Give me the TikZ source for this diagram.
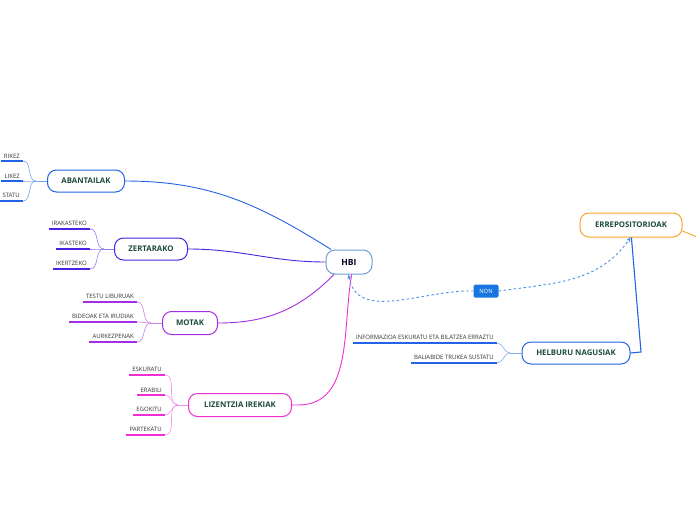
\documentclass[tikz,border=0pt]{standalone}
\usepackage{fontspec}
\setmainfont{Open Sans}
\usetikzlibrary{positioning,arrows.meta}
\definecolor{abcol}{HTML}{2463E6}
\definecolor{zecol}{HTML}{4B22E0}
\definecolor{mocol}{HTML}{A52DE3}
\definecolor{licol}{HTML}{EE2FD6}
\definecolor{hbcol}{HTML}{6A9FD8}
\definecolor{recol}{HTML}{F5A52A}
\definecolor{dacol}{HTML}{4A90E2}
\definecolor{noncol}{HTML}{1976E0}
\definecolor{txtcol}{HTML}{1E4A3C}
\definecolor{leaftxt}{HTML}{333333}

\begin{document}
\begin{tikzpicture}[x=1pt,y=-1pt,
  topic/.style={draw,line width=1pt,rounded corners=9pt,fill=white,inner sep=0pt,
    minimum height=22pt,text=txtcol,font=\fontsize{7.8}{9}\selectfont\bfseries},
  leaf/.style={anchor=south east,inner xsep=3pt,inner ysep=2.8pt,text=leaftxt,
    font=\fontsize{6}{7}\selectfont},
  under/.style={line width=1.2pt},
  twig/.style={line width=0.6pt},
  main/.style={line width=0.9pt},
  dashlink/.style={dacol,line width=0.9pt,dash pattern=on 2.5pt off 2.5pt,
    -{Stealth[length=4.5pt,width=4pt]}}]
\useasboundingbox (0,0) rectangle (696,520);
\clip (0,0) rectangle (696,520);

% main topics
\node[topic,draw=hbcol,text=black!85!blue,minimum width=46pt,minimum height=24pt,
  font=\fontsize{8.5}{9}\selectfont\bfseries] (hbi) at (349,262) {HBI};
\node[topic,draw=abcol,minimum width=77pt] (aban) at (86,181) {ABANTAILAK};
\node[topic,draw=zecol,minimum width=73pt] (zert) at (151,249) {ZERTARAKO};
\node[topic,draw=mocol,minimum width=55pt,minimum height=23pt] (mota) at (190,323) {MOTAK};
\node[topic,draw=licol,minimum width=103pt,minimum height=23pt] (liz) at (240,405) {LIZENTZIA IREKIAK};
\node[topic,draw=recol,minimum width=102pt,minimum height=24pt] (repo) at (631,225) {ERREPOSITORIOAK};
\node[topic,draw=abcol,minimum width=108pt] (helb) at (576,353) {HELBURU NAGUSIAK};
\node[fill=noncol,text=white,rounded corners=1.5pt,minimum width=25pt,minimum height=13pt,
  inner sep=0pt,font=\fontsize{5.8}{6}\selectfont] (non) at (486,291) {NON};

% junctions
\coordinate (abj) at (36,181);
\coordinate (zej) at (104,249);
\coordinate (moj) at (151,323);
\coordinate (lij) at (178,405);
\coordinate (hej) at (510,353);
\coordinate (hbk) at (641,352);
\coordinate (reout) at (697,237);

% leaves
\foreach \n/\t/\y in {a1/RIKEZ/161, a2/LIKEZ/181, a3/STATU/201}{
  \node[leaf] (\n) at (23,\y) {\t};
  \draw[abcol,under] (\n.south west) -- (\n.south east);
  \draw[abcol!60,twig] (\n.south east) to[out=0,in=180] (abj);
}
\draw[abcol!60,twig] (abj) -- (aban.west);

\foreach \n/\t/\y in {z1/IRAKASTEKO/229, z2/IKASTEKO/249, z3/IKERTZEKO/269}{
  \node[leaf] (\n) at (90,\y) {\t};
  \draw[zecol,under] (\n.south west) -- (\n.south east);
  \draw[zecol!60,twig] (\n.south east) to[out=0,in=180] (zej);
}
\draw[zecol!60,twig] (zej) -- (zert.west);

\foreach \n/\t/\y in {m1/TESTU LIBURUAK/302, m2/BIDEOAK ETA IRUDIAK/322, m3/AURKEZPENAK/342}{
  \node[leaf] (\n) at (137,\y) {\t};
  \draw[mocol,under] (\n.south west) -- (\n.south east);
  \draw[mocol!60,twig] (\n.south east) to[out=0,in=180] (moj);
}
\draw[mocol!60,twig] (moj) -- (mota.west);

\foreach \n/\t/\y in {l1/ESKURATU/375, l2/ERABILI/395, l3/EGOKITU/415, l4/PARTEKATU/435}{
  \node[leaf] (\n) at (165,\y) {\t};
  \draw[licol,under] (\n.south west) -- (\n.south east);
  \draw[licol!55,twig] (\n.south east) to[out=0,in=180] (lij);
}
\draw[licol!55,twig] (lij) -- (liz.west);

\foreach \n/\t/\y in {h1/INFORMAZIOA ESKURATU ETA BILATZEA ERRAZTU/343, h2/BALIABIDE TRUKEA SUSTATU/363}{
  \node[leaf] (\n) at (497,\y) {\t};
  \draw[abcol,under] (\n.south west) -- (\n.south east);
  \draw[abcol!55,twig] (\n.south east) to[out=0,in=180] (hej);
}
\draw[abcol!55,twig] (hej) -- (helb.west);

% links to HBI
\draw[abcol,main] (aban.east) to[out=0,in=148] (hbi.145);
\draw[zecol,main] (zert.east) to[out=0,in=180] (hbi.west);
\draw[mocol,main] (mota.east) to[out=0,in=-135] (hbi.-140);
\draw[licol,main] (liz.east) -- ++(6,0) to[out=0,in=-100] (hbi.-78);

% repository side
\draw[abcol,line width=1.1pt] (helb.east) -- (hbk) -- (repo.-88);
\draw[recol,main] ([yshift=-6pt]repo.east) -- (reout);
\draw[dashlink,{Stealth[length=4.5pt,width=4pt]}-] (hbi.-92) to[out=-80,in=178] (non.west);
\draw[dashlink] (non.east) to[out=8,in=-125] (repo.-92);
\end{tikzpicture}
\end{document}
